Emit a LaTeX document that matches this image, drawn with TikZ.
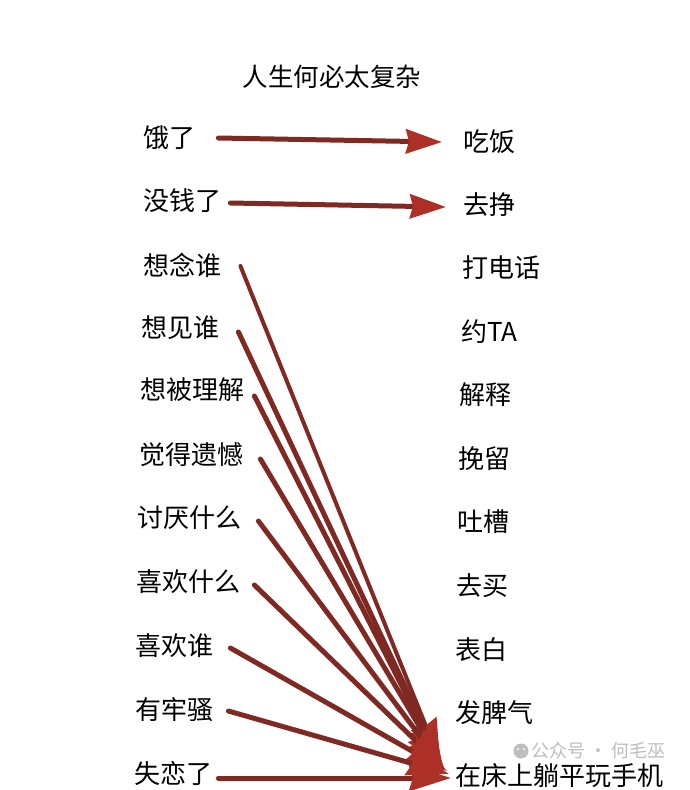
\documentclass[tikz,border=0pt]{standalone}
\usepackage{fontspec}
\setmainfont{Noto Sans CJK SC}
\usetikzlibrary{arrows.meta}
\definecolor{shaft}{RGB}{128,40,34}
\definecolor{headred}{RGB}{172,48,38}
\definecolor{wm}{RGB}{190,190,190}
\begin{document}
\begin{tikzpicture}[x=1pt,y=-1pt,
  lbl/.style={anchor=west,inner sep=0pt,font=\fontsize{26}{26}\selectfont},
  arr/.style={draw=shaft,line width=5pt,line cap=round,
    -{Stealth[length=36pt,width=24pt,inset=3pt,color=headred]}},
  bigarr/.style={draw=shaft,line width=5pt,line cap=round,
    -{Stealth[length=42pt,width=26pt,inset=4pt,color=headred]}},
  wmtext/.style={anchor=west,inner sep=0pt,text=wm,font=\fontsize{18}{18}\selectfont}]
\path[use as bounding box,fill=white] (0,0) rectangle (690,790);

\node[inner sep=0pt,font=\fontsize{25.5}{26}\selectfont] (title) at (332,77) {人生何必太复杂};

% left column
\node[lbl] (l1) at (143,138) {饿了};
\node[lbl] (l2) at (143,201) {没钱了};
\node[lbl] (l3) at (143,265) {想念谁};
\node[lbl] (l4) at (141,328) {想见谁};
\node[lbl] (l5) at (140,390) {想被理解};
\node[lbl] (l6) at (139,455) {觉得遗憾};
\node[lbl] (l7) at (137,518) {讨厌什么};
\node[lbl] (l8) at (136,582) {喜欢什么};
\node[lbl] (l9) at (135,646) {喜欢谁};
\node[lbl] (l10) at (135,710) {有牢骚};
\node[lbl] (l11) at (134,773) {失恋了};

% right column
\node[lbl] (r1) at (463,142) {吃饭};
\node[lbl] (r2) at (463,205) {去挣};
\node[lbl] (r3) at (462,268) {打电话};
\node[lbl] (r4) at (461,332) {约TA};
\node[lbl] (r5) at (459,395) {解释};
\node[lbl] (r6) at (458,459) {挽留};
\node[lbl] (r7) at (457,522) {吐槽};
\node[lbl] (r8) at (456,586) {去买};
\node[lbl] (r9) at (455,650) {表白};
\node[lbl] (r10) at (455,713) {发脾气};
\node[lbl] (r11) at (455,776) {在床上躺平玩手机};

% watermark
\fill[wm] (521,751) circle (7.5pt);
\fill[white] (518,749) circle (1.2pt) (524,749) circle (1.2pt);
\node[wmtext] (wm) at (531,751) {公众号 · 何毛巫};

% arrows
\draw[arr] ([shift={(23,0)}]l1.east) -- ([shift={(-21,0)}]r1.west);
\draw[arr] ([shift={(9,2)}]l2.east) -- ([shift={(-17,2)}]r2.west);
\draw[bigarr,line width=4pt] ([shift={(19,1)}]l3.east) -- ([shift={(-15,-15)}]r11.west);
\draw[bigarr] ([shift={(19,4)}]l4.east) -- ([shift={(-14,-13)}]r11.west);
\draw[bigarr] ([shift={(10,6)}]l5.east) -- ([shift={(-13,-11)}]r11.west);
\draw[bigarr] ([shift={(17,4)}]l6.east) -- ([shift={(-12,-10)}]r11.west);
\draw[bigarr] ([shift={(17,3)}]l7.east) -- ([shift={(-11,-8)}]r11.west);
\draw[bigarr] ([shift={(14,3)}]l8.east) -- ([shift={(-10,-7)}]r11.west);
\draw[bigarr] ([shift={(17,2)}]l9.east) -- ([shift={(-8,-5)}]r11.west);
\draw[bigarr] ([shift={(15,1)}]l10.east) -- ([shift={(-6,-2)}]r11.west);
\draw[bigarr] ([shift={(6,5)}]l11.east) -- ([shift={(-4,2)}]r11.west);
\end{tikzpicture}
\end{document}
